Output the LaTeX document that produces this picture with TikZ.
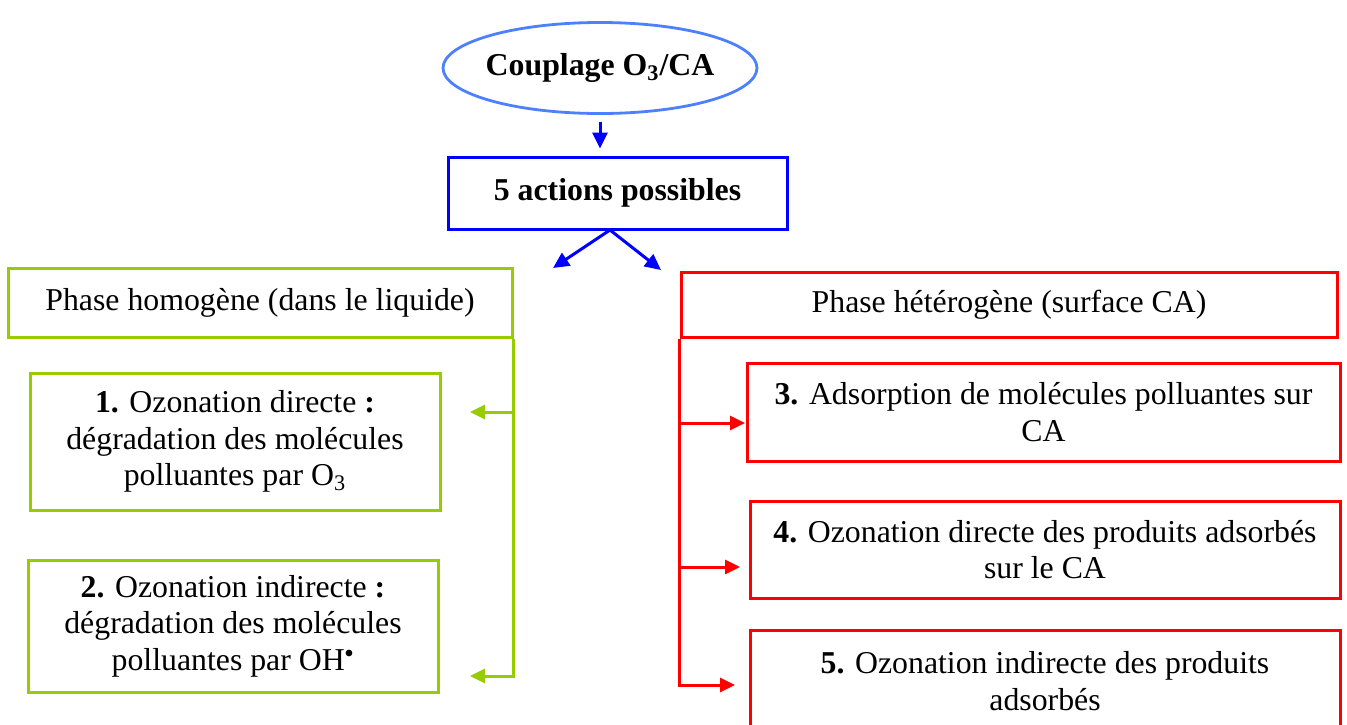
\documentclass[tikz,border=0pt]{standalone}
\definecolor{ovalblue}{RGB}{77, 128, 255}
\definecolor{boxblue}{RGB}{0, 0, 255}
\definecolor{phasegreen}{RGB}{153, 204, 0}
\definecolor{phasered}{RGB}{255, 0, 0}
\usepackage{fontspec}
\setmainfont{Liberation Serif}
\usepackage{tikz}
\usepackage{xcolor}
\usetikzlibrary{shapes,arrows,arrows.meta,positioning,calc}

\begin{document}
\begin{tikzpicture}[x=0.5pt, y=-0.5pt,
    greenbox/.style={rectangle, draw=phasegreen, line width=1.5pt, align=center, inner sep=0pt},
    redbox/.style={rectangle, draw=phasered, line width=1.5pt, align=center, inner sep=0pt},
    greenline/.style={-{Triangle[length=7.5pt, width=7pt]}, line width=1.5pt, color=phasegreen},
    redline/.style={-{Triangle[length=7.5pt, width=7pt]}, line width=1.5pt, color=phasered},
    blueline/.style={-{Triangle[length=8pt, width=7.5pt]}, line width=1.5pt, color=boxblue}]
    \useasboundingbox (0,0) rectangle (1347,724);
    \fontsize{15.9}{18.3}\selectfont
    \node[ellipse, draw=ovalblue, line width=1.4pt, minimum width=157pt, minimum height=45.5pt, inner xsep=-2.5pt, inner ysep=0pt] (couple) at (600,68) {\textbf{Couplage O\textsubscript{3}/CA}};
    \node[rectangle, draw=boxblue, line width=1.5pt, minimum width=169.5pt, minimum height=36pt, inner sep=0pt] (actions) at (617.5,193) {\textbf{5 actions possibles}};

    \node[greenbox, minimum width=252pt, minimum height=34.5pt] (homog) at (260,302.5) {Phase homogène (dans le liquide)};
    \node[greenbox, minimum width=205pt, minimum height=68.5pt] (direct) at (235,441.5) {\textbf{1.} Ozonation directe \textbf{:}\\ dégradation des molécules\\ polluantes par O\textsubscript{3}};
    \node[greenbox, minimum width=205pt, minimum height=66pt] (indirect) at (233,626) {\textbf{2.} Ozonation indirecte \textbf{:}\\ dégradation des molécules\\ polluantes par OH$^{\scriptscriptstyle\bullet}$};

    \node[redbox, minimum width=328pt, minimum height=32.5pt] (hetero) at (1009,304.5) {Phase hétérogène (surface CA)};
    \node[redbox, minimum width=296.5pt, minimum height=49pt] (adsorb) at (1043.5,412) {\textbf{3.} Adsorption de molécules polluantes sur\\ CA};
    \node[redbox, minimum width=295pt, minimum height=48.5pt] (surface) at (1045,549.5) {\textbf{4.} Ozonation directe des produits adsorbés\\ sur le CA};
    \node[redbox, minimum width=295pt, minimum height=51pt] (produit) at (1045,681) {\textbf{5.} Ozonation indirecte des produits\\ adsorbés};

    % ends of the connectors
    \coordinate (split) at (610,230);
    \coordinate (toleft) at (553,268);
    \coordinate (toright) at (661,270);
    \coordinate (g1) at (470,412);
    \coordinate (g2) at (470,676);
    \coordinate (r3) at (745,423);
    \coordinate (r4) at (740,567);
    \coordinate (r5) at (735,685);

    \draw[blueline, shorten <=3.5pt, shorten >=3.5pt] (couple.south) -- (couple.south |- actions.north);
    \draw[blueline] (split) -- (toleft);
    \draw[blueline] (split) -- (toright);

    \draw[greenline] (homog.south east) |- (g2);
    \draw[greenline] (homog.south east |- g1) -- (g1);

    \draw[redline] (hetero.south west) |- (r5);
    \draw[redline] (hetero.south west |- r3) -- (r3);
    \draw[redline] (hetero.south west |- r4) -- (r4);
\end{tikzpicture}
\end{document}
